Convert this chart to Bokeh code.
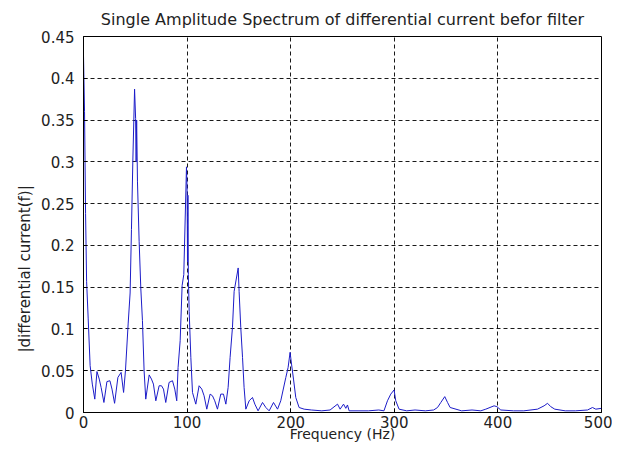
from bokeh.plotting import figure
from bokeh.models import FixedTicker, Range1d, Title
from bokeh.embed import file_html
from bokeh.resources import INLINE

title_text = "Single Amplitude Spectrum of differential current befor filter"
x_label = "Frequency (Hz)"
y_label = "|differential current(f)|"

x_ticks = [0, 100, 200, 300, 400, 500]
y_ticks = [0, 0.05, 0.1, 0.15, 0.2, 0.25, 0.3, 0.35, 0.4, 0.45]
y_tick_labels = ["0", "0.05", "0.1", "0.15", "0.2", "0.25", "0.3", "0.35", "0.4", "0.45"]

freq = [0, 1, 2, 3, 4.5, 6.4, 8.5, 10.9, 13, 15.2, 17, 19.7, 22.6, 25.5, 27.5, 30,
        33.2, 36.3, 38.7, 40.5, 43.1, 45, 46.3, 47.6, 49.3, 50.3, 50.8, 51.3, 52.1,
        53.7, 55.3, 56.9, 58.5, 60.1, 63.4, 65.6, 67.5, 69.8, 73, 75.3, 77.2, 79.4,
        82.6, 85.9, 88.1, 90, 91.3, 93.3, 95.2, 96.8, 99.4, 100.0, 100.4, 100.8,
        101.2, 102, 103.6, 105.2, 108.4, 111.6, 114.2, 116.4, 119, 122.2, 124.5,
        126.7, 129.3, 132.5, 135.1, 137.4, 139.6, 141.5, 143.8, 145.4, 149.3, 150.2,
        151.8, 153.5, 155, 156.7, 159.9, 163.1, 165.4, 168.5, 172.8, 176, 179.2,
        183.4, 187.3, 190.4, 195.3, 197.5, 199.4, 200.8, 202.7, 204.9, 208.1, 213,
        220, 230, 238, 245.2, 247.7, 251, 253.2, 254.8, 256.4, 265, 275, 285, 290,
        293.4, 296.6, 299.8, 301.4, 304.6, 312, 320, 330, 338, 341.7, 344.9, 348.7,
        351.4, 353.9, 365, 375, 383.5, 388.3, 396.3, 399, 402.8, 415, 425, 438.2,
        444.6, 447.9, 451, 454.9, 465, 475, 486.5, 491.3, 494.5, 500]
amp = [0.427, 0.36, 0.238, 0.157, 0.113, 0.056, 0.034, 0.016, 0.049, 0.040, 0.030,
       0.012, 0.037, 0.038, 0.028, 0.011, 0.042, 0.048, 0.024, 0.050, 0.106, 0.143,
       0.219, 0.300, 0.387, 0.352, 0.30, 0.35, 0.276, 0.205, 0.149, 0.110, 0.050,
       0.016, 0.045, 0.040, 0.034, 0.014, 0.032, 0.032, 0.028, 0.012, 0.036, 0.038,
       0.028, 0.014, 0.054, 0.086, 0.152, 0.165, 0.294, 0.266, 0.18, 0.26, 0.165,
       0.121, 0.066, 0.024, 0.010, 0.032, 0.028, 0.020, 0.004, 0.022, 0.020, 0.014,
       0.004, 0.022, 0.022, 0.010, 0.030, 0.066, 0.102, 0.145, 0.173, 0.145, 0.102,
       0.066, 0.030, 0.004, 0.014, 0.018, 0.010, 0.002, 0.012, 0.006, 0.002, 0.012,
       0.004, 0.014, 0.042, 0.054, 0.072, 0.058, 0.040, 0.018, 0.006, 0.004, 0.003,
       0.002, 0.003, 0.010, 0.004, 0.010, 0.005, 0.009, 0.002, 0.002, 0.002, 0.003,
       0.002, 0.014, 0.022, 0.027, 0.014, 0.004, 0.002, 0.003, 0.002, 0.003, 0.006,
       0.012, 0.019, 0.012, 0.006, 0.002, 0.003, 0.002, 0.004, 0.008, 0.007, 0.003,
       0.002, 0.002, 0.004, 0.008, 0.011, 0.007, 0.004, 0.002, 0.002, 0.003, 0.006,
       0.004, 0.005]

FONT = "DejaVu Sans"
TXT = "#222222"

p = figure(width=612, height=444, output_backend="svg", toolbar_location=None,
           x_range=Range1d(0, 500), y_range=Range1d(0, 0.45),
           min_border_left=83, min_border_right=11, min_border_top=35,
           min_border_bottom=32, title=title_text)
p.title.align = "center"
p.title.text_font = FONT
p.title.text_font_size = "16px"
p.title.text_font_style = "normal"
p.title.text_color = TXT
p.title.offset = 0
p.title.standoff = 15

p.outline_line_color = "black"
p.outline_line_width = 1
p.background_fill_color = "white"
p.border_fill_color = "white"

p.line(freq, amp, line_color="#1c1cc8", line_width=1)

p.xaxis.ticker = FixedTicker(ticks=x_ticks)
p.yaxis.ticker = FixedTicker(ticks=y_ticks)
p.yaxis.major_label_overrides = {t: s for t, s in zip(y_ticks, y_tick_labels)}
p.xaxis.major_label_overrides = {t: str(t) for t in x_ticks}

for ax in (p.xaxis, p.yaxis):
    ax.axis_line_color = "black"
    ax.major_tick_line_color = "black"
    ax.major_tick_in = 4
    ax.major_tick_out = 0
    ax.minor_tick_line_color = None
    ax.major_label_text_font = FONT
    ax.major_label_text_font_size = "15px"
    ax.major_label_text_color = TXT
    ax.axis_label_text_font = FONT
    ax.axis_label_text_font_size = "14px"
    ax.axis_label_text_font_style = "normal"
    ax.axis_label_text_color = TXT

p.xaxis.axis_label = x_label
p.xaxis.major_label_standoff = 3
p.xaxis.axis_label_standoff = -5
p.yaxis.major_label_standoff = 9

ytitle = Title(text=y_label, align="left", offset=60, standoff=10,
               text_font=FONT, text_font_size="15px", text_font_style="normal",
               text_color=TXT)
p.add_layout(ytitle, "left")

p.xgrid.ticker = FixedTicker(ticks=[100, 200, 300, 400])
p.ygrid.ticker = FixedTicker(ticks=[0.05, 0.1, 0.15, 0.2, 0.25, 0.3, 0.35, 0.4])
for g in (p.xgrid, p.ygrid):
    g.grid_line_color = "black"
    g.grid_line_dash = "4 3"
    g.grid_line_width = 1
    g.grid_line_alpha = 0.9

open("out.html", "w").write(file_html(p, INLINE))
